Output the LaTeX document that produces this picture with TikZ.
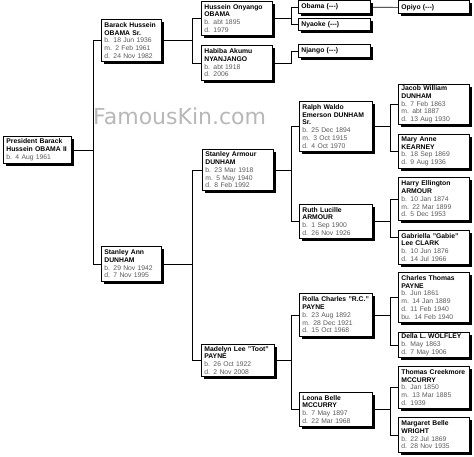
\documentclass[tikz,border=0pt]{standalone}
\usepackage{fontspec}
\setmainfont{Liberation Sans}
\newfontfamily\wmfont{DejaVu Sans}
\usetikzlibrary{shadows,calc}
\definecolor{dategray}{HTML}{5A5A5A}
\definecolor{wmgray}{HTML}{B8B8B8}
\newcommand\nmx[1]{{\bfseries\color{black}#1}}
\newcommand\dtx[1]{{\color{dategray}#1}}
\newcommand\unk{(-{}-{}-)}
\begin{document}
\begin{tikzpicture}[x=1pt,y=-1pt,
  person/.style 2 args={draw=black, line width=0.8pt, fill=white, anchor=north west,
    inner xsep=3pt, inner ysep=0pt, text width=#1, minimum height=#2, align=left,
    font=\fontsize{6.8}{7.7}\selectfont,
    drop shadow={shadow xshift=2.5pt, shadow yshift=-2.5pt, opacity=1, fill=black}},
  link/.style={draw=black, line width=0.7pt}]
\fill[white] (0,0) rectangle (474,457);
\useasboundingbox (0,0) rectangle (474,457);
\node[anchor=base west, inner sep=0pt, text=wmgray, font=\wmfont\fontsize{22}{22}\selectfont] (wmark) at (93,125) {FamousKin.com};
% bracket columns
\coordinate (k0) at (93,0);
\coordinate (k1) at (192,0);
\coordinate (k2) at (291,0);
\coordinate (k3) at (390,0);
% generation 1
\node[person={62pt}{27pt}] (pres) at (3,136) {\nmx{President Barack}\\\nmx{Hussein OBAMA II}\\\dtx{b. 4 Aug 1961}};
% generation 2
\node[person={54pt}{42pt}] (bsr) at (101,19) {\nmx{Barack Hussein}\\\nmx{OBAMA Sr.}\\\dtx{b. 18 Jun 1936}\\\dtx{m. 2 Feb 1961}\\\dtx{d. 24 Nov 1982}};
\node[person={54pt}{35pt}] (san) at (101,246) {\nmx{Stanley Ann}\\\nmx{DUNHAM}\\\dtx{b. 29 Nov 1942}\\\dtx{d. 7 Nov 1995}};
% generation 3
\node[person={65pt}{34pt}] (hus) at (201,1) {\nmx{Hussein Onyango}\\\nmx{OBAMA}\\\dtx{b. abt 1895}\\\dtx{d. 1979}};
\node[person={65pt}{35pt}] (hab) at (201,45) {\nmx{Habiba Akumu}\\\nmx{NYANJANGO}\\\dtx{b. abt 1918}\\\dtx{d. 2006}};
\node[person={65pt}{41pt}] (sar) at (202,149) {\nmx{Stanley Armour}\\\nmx{DUNHAM}\\\dtx{b. 23 Mar 1918}\\\dtx{m. 5 May 1940}\\\dtx{d. 8 Feb 1992}};
\node[person={67pt}{32pt}] (mad) at (201,344) {\nmx{Madelyn Lee "Toot"}\\\nmx{PAYNE}\\\dtx{b. 26 Oct 1922}\\\dtx{d. 2 Nov 2008}};
% generation 4
\node[person={66pt}{12.5pt}] (oba) at (298,0.5) {\nmx{Obama \unk}};
\node[person={66pt}{12.5pt}] (nya) at (298,18) {\nmx{Nyaoke \unk}};
\node[person={66pt}{12.5pt}] (nja) at (298,44.5) {\nmx{Njango \unk}};
\node[person={67pt}{50pt}] (ral) at (299,101) {\nmx{Ralph Waldo}\\\nmx{Emerson DUNHAM}\\\nmx{Sr.}\\\dtx{b. 25 Dec 1894}\\\dtx{m. 3 Oct 1915}\\\dtx{d. 4 Oct 1970}};
\node[person={67pt}{34pt}] (rut) at (299,204) {\nmx{Ruth Lucille}\\\nmx{ARMOUR}\\\dtx{b. 1 Sep 1900}\\\dtx{d. 26 Nov 1926}};
\node[person={67pt}{43pt}] (rol) at (299,293) {\nmx{Rolla Charles "R.C."}\\\nmx{PAYNE}\\\dtx{b. 23 Aug 1892}\\\dtx{m. 28 Dec 1921}\\\dtx{d. 15 Oct 1968}};
\node[person={67pt}{34pt}] (leo) at (299,392) {\nmx{Leona Belle}\\\nmx{MCCURRY}\\\dtx{b. 7 May 1897}\\\dtx{d. 22 Mar 1968}};
% generation 5
\node[person={65pt}{13pt}] (opi) at (398,0.5) {\nmx{Opiyo \unk}};
\node[person={65pt}{40pt}] (jac) at (398,84) {\nmx{Jacob William}\\\nmx{DUNHAM}\\\dtx{b. 7 Feb 1863}\\\dtx{m. abt 1887}\\\dtx{d. 13 Aug 1930}};
\node[person={65pt}{34pt}] (mar) at (398,134) {\nmx{Mary Anne}\\\nmx{KEARNEY}\\\dtx{b. 18 Sep 1869}\\\dtx{d. 9 Aug 1936}};
\node[person={65pt}{43pt}] (har) at (398,177) {\nmx{Harry Ellington}\\\nmx{ARMOUR}\\\dtx{b. 10 Jan 1874}\\\dtx{m. 22 Mar 1899}\\\dtx{d. 5 Dec 1953}};
\node[person={65pt}{34pt}] (gab) at (398,230) {\nmx{Gabriella "Gabie"}\\\nmx{Lee CLARK}\\\dtx{b. 10 Jun 1876}\\\dtx{d. 14 Jul 1966}};
\node[person={65pt}{50pt}] (cha) at (398,272) {\nmx{Charles Thomas}\\\nmx{PAYNE}\\\dtx{b. Jun 1861}\\\dtx{m. 14 Jan 1889}\\\dtx{d. 11 Feb 1940}\\\dtx{bu. 14 Feb 1940}};
\node[person={65pt}{25pt}] (del) at (398,332) {\nmx{Della L. WOLFLEY}\\\dtx{b. May 1863}\\\dtx{d. 7 May 1906}};
\node[person={65pt}{42pt}] (tho) at (398,366) {\nmx{Thomas Creekmore}\\\nmx{MCCURRY}\\\dtx{b. Jan 1850}\\\dtx{m. 13 Mar 1885}\\\dtx{d. 1939}};
\node[person={65pt}{35pt}] (mgt) at (398,417) {\nmx{Margaret Belle}\\\nmx{WRIGHT}\\\dtx{b. 22 Jul 1869}\\\dtx{d. 28 Nov 1935}};
\coordinate (gabin) at ($(gab.north west)+(0,7.5)$);
% connectors
\draw[link] (pres.east) -- (pres.east -| k0) |- (bsr.west);
\draw[link] (pres.east) -- (pres.east -| k0) |- (san.west);
\draw[link] (bsr.east) -- (bsr.east -| k1) |- (hus.west);
\draw[link] (bsr.east) -- (bsr.east -| k1) |- (hab.west);
\draw[link] (san.east) -- (san.east -| k1) |- (sar.west);
\draw[link] (san.east) -- (san.east -| k1) |- (mad.west);
\draw[link] (hus.east) -- (hus.east -| k2) |- (oba.west);
\draw[link] (hus.east) -- (hus.east -| k2) |- (nya.west);
\draw[link] (hab.east) -- (hab.east -| k2) |- (nja.west);
\draw[link] (oba.east) -- (opi.west);
\draw[link] (sar.east) -- (sar.east -| k2) |- (ral.west);
\draw[link] (sar.east) -- (sar.east -| k2) |- (rut.west);
\draw[link] (mad.east) -- (mad.east -| k2) |- (rol.west);
\draw[link] (mad.east) -- (mad.east -| k2) |- (leo.west);
\draw[link] (ral.east) -- (ral.east -| k3) |- (jac.west);
\draw[link] (ral.east) -- (ral.east -| k3) |- (mar.west);
\draw[link] (rut.east) -- (rut.east -| k3) |- (har.west);
\draw[link] (rut.east) -- (rut.east -| k3) |- (gabin);
\draw[link] (rol.east) -- (rol.east -| k3) |- (cha.west);
\draw[link] (rol.east) -- (rol.east -| k3) |- (del.west);
\draw[link] (leo.east) -- (leo.east -| k3) |- (tho.west);
\draw[link] (leo.east) -- (leo.east -| k3) |- (mgt.west);
\end{tikzpicture}
\end{document}
